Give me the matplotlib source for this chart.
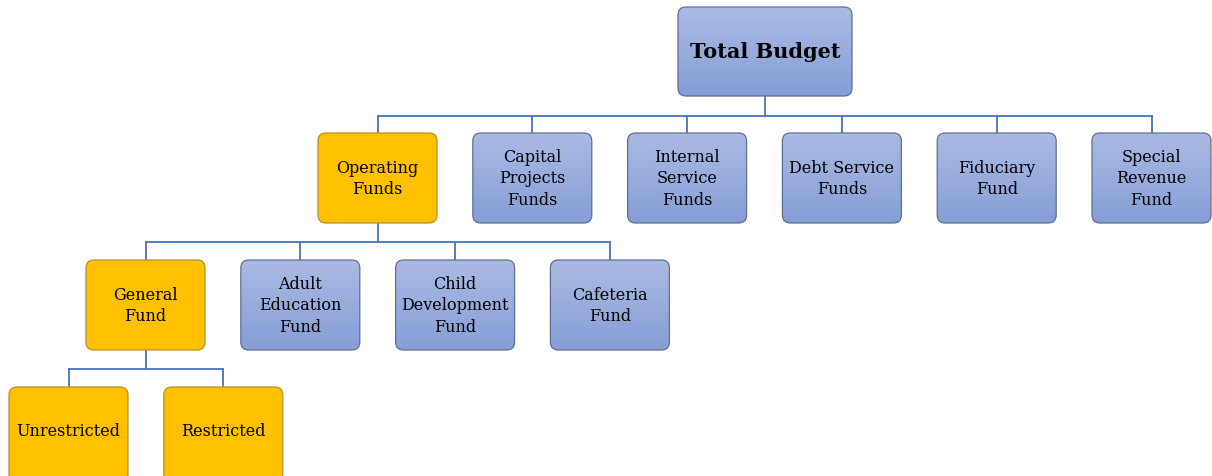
import matplotlib
matplotlib.use("Agg")
import matplotlib.pyplot as plt
from matplotlib.patches import FancyBboxPatch
import numpy as np

# ---- data ----
root_label = "Total Budget"
level1_labels = ["Operating\nFunds", "Capital\nProjects\nFunds", "Internal\nService\nFunds",
                 "Debt Service\nFunds", "Fiduciary\nFund", "Special\nRevenue\nFund"]
level2_labels = ["General\nFund", "Adult\nEducation\nFund", "Child\nDevelopment\nFund", "Cafeteria\nFund"]
level3_labels = ["Unrestricted", "Restricted"]
highlighted = ["Operating\nFunds", "General\nFund", "Unrestricted", "Restricted"]
level2_parent = 0   # index in level1
level3_parent = 0   # index in level2

# ---- layout (pixels) ----
W, H = 1212, 477
BOX_W, BOX_H = 119, 90
STEP = 154.8
ROOT_BOX = (678, 8, 174, 89)
ROW1 = (318, 134)
ROW2 = (86, 261)
ROW3 = (9, 388)

fig = plt.figure(figsize=(W / 100, H / 100), dpi=100)
ax = fig.add_axes([0, 0, 1, 1])
ax.set_xlim(0, W)
ax.set_ylim(H, 0)
ax.axis('off')

LINE_C = '#4a72bf'
TOP_C = np.array([171, 186, 227]) / 255
BOT_C = np.array([134, 158, 214]) / 255
ORANGE = '#ffc000'


def box(x, y, w, h, label, hl, bold=False, fs=11.5, text_h=None):
    if hl:
        p = FancyBboxPatch((x, y), w, h, boxstyle="round,pad=0,rounding_size=8",
                           facecolor=ORANGE, edgecolor='#b8902a', lw=0.9, zorder=3)
        ax.add_patch(p)
    else:
        p = FancyBboxPatch((x, y), w, h, boxstyle="round,pad=0,rounding_size=8",
                           facecolor='none', edgecolor='#5f6f92', lw=0.9, zorder=4)
        ax.add_patch(p)
        t = np.linspace(0, 1, 64)[:, None, None]
        grad = TOP_C * (1 - t) + BOT_C * t
        grad = np.repeat(grad, 2, axis=1)
        im = ax.imshow(grad, extent=(x, x + w, y + h, y), origin='upper',
                       aspect='auto', zorder=3, interpolation='bilinear')
        clip = FancyBboxPatch((x, y), w, h, boxstyle="round,pad=0,rounding_size=8",
                              facecolor='none', edgecolor='none', transform=ax.transData)
        im.set_clip_path(clip)
    th = h if text_h is None else text_h
    ax.text(x + w / 2, y + th / 2, label, ha='center', va='center', fontsize=fs,
            family='DejaVu Serif', fontweight='bold' if bold else 'normal',
            linespacing=1.32, color='#000000', zorder=5)


def connect(px, py_bottom, xs, ytop, ybar):
    ax.plot([px, px], [py_bottom, ybar], color=LINE_C, lw=1.3, zorder=2)
    ax.plot([min(xs), max(xs)], [ybar, ybar], color=LINE_C, lw=1.3, zorder=2)
    for cx in xs:
        ax.plot([cx, cx], [ybar, ytop], color=LINE_C, lw=1.3, zorder=2)


# root
rx, ry, rw, rh = ROOT_BOX
box(rx, ry, rw, rh, root_label, root_label in highlighted, bold=True, fs=15)

rows = [(level1_labels, ROW1, BOX_H), (level2_labels, ROW2, BOX_H), (level3_labels, ROW3, 95)]
centers = []
for labels, (x0, y0), h in rows:
    cs = []
    for i, lab in enumerate(labels):
        x = x0 + i * STEP
        box(x, y0, BOX_W, h, lab, lab in highlighted, text_h=BOX_H - 2 if h != BOX_H else None)
        cs.append(x + BOX_W / 2)
    centers.append(cs)

connect(rx + rw / 2, ry + rh, centers[0], ROW1[1], 117)
connect(centers[0][level2_parent], ROW1[1] + BOX_H, centers[1], ROW2[1], 243)
connect(centers[1][level3_parent], ROW2[1] + BOX_H, centers[2], ROW3[1], 370)

fig.savefig('out.png', dpi=100)
